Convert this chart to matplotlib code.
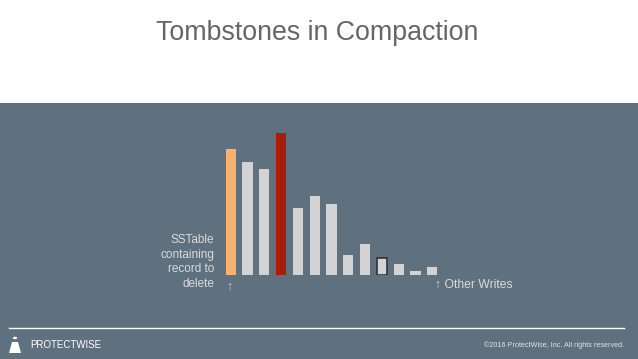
import matplotlib.pyplot as plt
from matplotlib.patches import Rectangle, Polygon, Circle

plt.rcParams['font.family'] = ['Liberation Sans', 'DejaVu Sans']

# datos de las barras (altura en px aprox.)
alturas = [126, 113, 106, 142, 67, 79, 71, 20, 31, 17, 11, 4, 8]
colores = ['#f4b36f', '#d3d3d3', '#d3d3d3', '#a71d05', '#d3d3d3', '#d3d3d3',
           '#d3d3d3', '#d3d3d3', '#d3d3d3', '#d3d3d3', '#d3d3d3', '#d3d3d3', '#d3d3d3']
bordes = ['none'] * 13
bordes[9] = '#2f3338'

titulo = 'Tombstones in Compaction'
etiqueta = 'SSTable\ncontaining\nrecord to\ndelete'
otras = '\u2191 Other Writes'
copyright_txt = '\u00a92016 ProtectWise, Inc. All rights reserved.'

W, H = 638, 359
fondo = '#5f707e'

fig = plt.figure(figsize=(W / 100, H / 100), dpi=100)
fig.patch.set_facecolor('white')

def fx(px):
    return px / W

def fy(py):
    return 1 - py / H

# banda gris-azulada
fig.patches.append(Rectangle((0, 0), 1, fy(103), transform=fig.transFigure,
                             facecolor=fondo, edgecolor='none', zorder=-5))

fig.text(fx(317.5), fy(32.5), titulo, ha='center', va='center', fontsize=19.3,
         color='#666666')

# ejes para las barras
ax = fig.add_axes([fx(222.3), fy(275), fx(440.7) - fx(222.3), (275 - 125) / H])
ax.set_zorder(2)
ax.set_facecolor('none')
x = list(range(len(alturas)))
for i in x:
    ax.bar(i, alturas[i], width=0.6, color=colores[i], edgecolor=bordes[i],
           linewidth=1.2 if bordes[i] != 'none' else 0)
ax.set_xlim(-0.5, len(alturas) - 0.5)
ax.set_ylim(0, 150)
ax.axis('off')

fig.text(fx(214), fy(262), etiqueta, ha='right', va='center', fontsize=8.5,
         color='#dadada', linespacing=1.3)
fig.text(fx(229.5), fy(286), '\u2191', ha='center', va='center', fontsize=9,
         color='#c8ccd0')
fig.text(fx(435), fy(285), otras, ha='left', va='center', fontsize=8.7,
         color='#dadada')

# linea separadora
fig.lines.append(plt.Line2D([fx(9), fx(624)], [fy(328), fy(328)],
                            transform=fig.transFigure, color='white', lw=1))

# logo simple
fig.patches.append(Circle((fx(15), fy(338)), 2.2 / W, transform=fig.transFigure,
                          facecolor='white', edgecolor='none'))
fig.patches.append(Polygon([(fx(9), fy(353)), (fx(21), fy(353)), (fx(18), fy(342)),
                            (fx(12), fy(342))], closed=True,
                           transform=fig.transFigure, facecolor='white',
                           edgecolor='none'))
fig.text(fx(30), fy(345.5), 'PROTECTWISE', ha='left', va='center', fontsize=7,
         color='white')

fig.text(fx(624), fy(345.5), copyright_txt, ha='right', va='center', fontsize=5.2,
         color='#e4e4e4')

fig.savefig('out.png', dpi=100, facecolor=fig.get_facecolor())
